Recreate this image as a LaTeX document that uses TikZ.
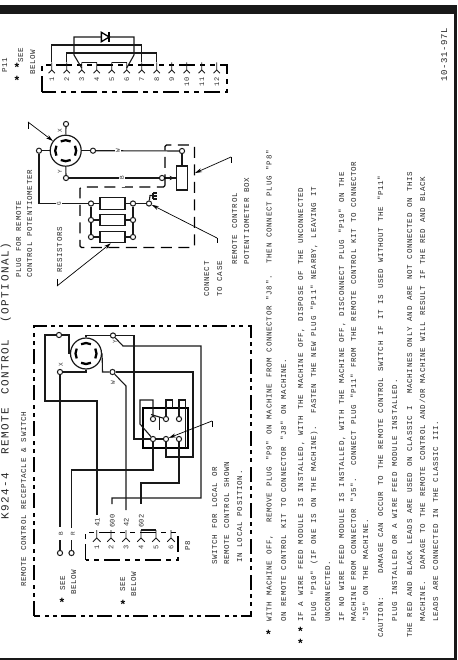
\documentclass[tikz,border=0pt]{standalone}
\usepackage{fontspec}
\usetikzlibrary{arrows.meta}
\setmainfont{Liberation Mono}
\newfontfamily\bodyf[LetterSpace=8.7,WordSpace=1.15]{Liberation Mono}
\newfontfamily\titlef[LetterSpace=13.6]{Liberation Mono}
\newfontfamily\datef[LetterSpace=7]{Liberation Mono}
\newfontfamily\starf{Liberation Sans}
\tikzset{
  wire/.style={line width=1.1pt,draw=black!90,line join=miter},
  termnode/.style={circle,draw=black!90,fill=white,line width=1pt,inner sep=0pt,minimum size=5.2pt},
  resbox/.style={rectangle,draw=black!90,fill=white,line width=1.1pt,inner sep=0pt},
  recep/.style={circle,draw=black!90,line width=1.2pt,inner sep=0pt,minimum size=31pt},
  txt/.style={rotate=90,anchor=base west,inner sep=0pt,font=\bodyf\fontsize{7.5}{8}\selectfont,text=black!85},
  pinlab/.style={rotate=90,anchor=base east,inner sep=0pt,font=\bodyf\fontsize{7}{8}\selectfont,text=black!80},
  gaplab/.style={rotate=90,fill=white,inner xsep=7pt,inner ysep=1pt,font=\bodyf\fontsize{6}{7}\selectfont,text=black!80},
  wirelab/.style={rotate=90,inner sep=0pt,font=\bodyf\fontsize{6}{7}\selectfont,text=black!80},
  starlab/.style={inner sep=0pt,font=\starf\bfseries\fontsize{12}{12}\selectfont},
  dashbox/.style={line width=1.3pt,draw=black,dash pattern=on 16pt off 5pt on 5pt off 5pt on 5pt off 5pt},
  dashres/.style={line width=1.3pt,draw=black,dash pattern=on 11pt off 6.5pt,rounded corners=1.5pt},
  dashmain/.style={line width=1.8pt,draw=black,dash pattern=on 15pt off 4pt on 4pt off 4pt on 4pt off 5pt},
  leader/.style={line width=.7pt,draw=black,-{Stealth[length=7pt,width=4pt]}},
  framebar/.style={fill=black!90}
}
\newcommand{\forkpin}[5]{% name, x, ytop, stem length, fork half width
  \coordinate (#1) at (#2,#3);
  \draw[wire,line width=.9pt] (#1) -- ++(0,#4) -- ++(-#5,#5);
  \draw[wire,line width=.9pt] (#1) ++(0,#4) -- ++(#5,#5);
}
\newcommand{\recarcs}[1]{%
  \foreach \a in {0,90,180,270}{
    \draw[line width=2.3pt,draw=black] (#1.center) ++(\a-28:10.5pt) arc[start angle=\a-28,end angle=\a+28,radius=10.5pt];
  }
}
\begin{document}
\begin{tikzpicture}[x=1pt,y=-1pt]
\useasboundingbox (0,0) rectangle (457,660);
% frame
\fill[framebar] (0,5) rectangle (457,14);
\fill[framebar] (453.7,5) rectangle (457,660);
\fill[framebar] (0,658) rectangle (457,660);

% ---------- titles
\node[txt,font=\titlef\fontsize{11}{12}\selectfont] (title) at (8.7,520) {K924-4\hspace{18pt}REMOTE\hspace{13pt}CONTROL\hspace{17pt}(OPTIONAL)};
\node[txt] (sub) at (26,587) {REMOTE CONTROL RECEPTACLE \& SWITCH};
\node[txt] (tplug1) at (21,278) {PLUG FOR REMOTE};
\node[txt] (tplug2) at (32,278) {CONTROL POTENTIOMETER};
\node[txt] (tres) at (62,273) {RESISTORS};
\node[txt] (tcon1) at (209,297) {CONNECT};
\node[txt] (tcon2) at (222,297) {TO CASE};
\node[txt] (tbox1) at (237,265) {REMOTE CONTROL};
\node[txt] (tbox2) at (249,265) {POTENTIOMETER BOX};
\node[txt] (tsw1) at (217,565) {SWITCH FOR LOCAL OR};
\node[txt] (tsw2) at (229,565) {REMOTE CONTROL SHOWN};
\node[txt] (tsw3) at (242,563) {IN LOCAL POSITION.};
\node[txt,font=\datef\fontsize{9}{10}\selectfont] (tdate) at (447,82) {10-31-97L};

% ---------- notes
\node[starlab] (n0s) at (268.5,634) {*};
\node[starlab] (n2a) at (300.5,631) {*};
\node[starlab] (n2b) at (300.5,643) {*};
\node[txt] (n1) at (271.5,622) {WITH MACHINE OFF,~~REMOVE PLUG "P9" ON MACHINE FROM CONNECTOR "J8".~~THEN CONNECT PLUG "P8"};
\node[txt] (n2) at (286,622) {ON REMOTE CONTROL KIT TO CONNECTOR "J8" ON MACHINE.};
\node[txt] (n3) at (303,622) {IF A WIRE FEED MODULE IS INSTALLED, WITH THE MACHINE OFF, DISPOSE OF THE UNCONNECTED};
\node[txt] (n4) at (316,622) {PLUG "P10" (IF ONE IS ON THE MACHINE).~~FASTEN THE NEW PLUG "P11" NEARBY, LEAVING IT};
\node[txt] (n5) at (330,622) {UNCONNECTED.};
\node[txt] (n6) at (344,622) {IF NO WIRE FEED MODULE IS INSTALLED, WITH THE MACHINE OFF, DISCONNECT PLUG "P10" ON THE};
\node[txt] (n7) at (356,622) {MACHINE FROM CONNECTOR "J5".~~CONNECT PLUG "P11" FROM THE REMOTE CONTROL KIT TO CONNECTOR};
\node[txt] (n8) at (368,622) {"J5" ON THE MACHINE.};
\node[txt] (n9) at (383,638) {CAUTION:~~~~DAMAGE CAN OCCUR TO THE REMOTE CONTROL SWITCH IF IT IS USED WITHOUT THE "P11"};
\node[txt] (n10) at (397,622) {PLUG INSTALLED OR A WIRE FEED MODULE INSTALLED.};
\node[txt] (n11) at (412,638) {THE RED AND BLACK LEADS ARE USED ON CLASSIC I~~MACHINES ONLY AND ARE NOT CONNECTED ON THIS};
\node[txt] (n12) at (425,622) {MACHINE.~~DAMAGE TO THE REMOTE CONTROL AND/OR MACHINE WILL RESULT IF THE RED AND BLACK};
\node[txt] (n13) at (438,622) {LEADS ARE CONNECTED IN THE CLASSIC III.};

% ---------- P11 plug
\node[txt] (lp11) at (7,73) {P11};
\node[starlab] (s1a) at (17,80) {*};
\node[starlab] (s1b) at (17,67) {*};
\node[txt] (ls1) at (23,63) {SEE};
\node[txt] (ls2) at (35,75) {BELOW};
\draw[dashbox] (42,92) -- (42,65) -- (227,65) -- (227,92) -- cycle;
\foreach \i/\x in {1/51.7,2/66.7,3/81.7,4/96.7,5/111.7,6/126.7,7/141.7,8/156.7,9/171.7,10/186.7,11/201.7,12/216.7}{
  \forkpin{q\i}{\x}{62.5}{7.5}{3.2}
  \node[pinlab] (ql\i) at (\x+2.4,77) {\i};
}
\node[inner sep=0pt,minimum width=7.5pt,minimum height=9pt] (dio) at (105.3,37) {};
\draw[line width=1.3pt] (dio.north west) -- (dio.east) -- (dio.south west) -- cycle;
\draw[line width=1.6pt] (dio.north east) -- (dio.south east);
\coordinate (q3d) at (81.7,68);
\coordinate (q6d) at (126.7,68);
\draw[wire] (q1) -- (51.7,45) -- (141.7,45) -- (q7);
\draw[wire] (q2) -- (66.7,53) -- (156.7,53) -- (q8);
\draw[wire] (q3) -- (q4);
\draw[wire] (q5) -- (q6);
\draw[wire] (q3d) -- (74,55) -- (74,37) -- (dio.west);
\draw[wire] (q6d) -- (134,55) -- (134,37) -- (dio.east);

% ---------- remote control potentiometer plug
\node[recep] (rec1) at (65.7,150.7) {};
\recarcs{rec1}
\node[termnode] (t1x) at (66,124) {};
\node[termnode] (t1g) at (39,150.7) {};
\node[termnode] (t1w) at (93,150.7) {};
\node[termnode] (t1y) at (66,178) {};
\node[wirelab] (m1x) at (60,131) {X};
\node[wirelab] (m1y) at (60,172) {Y};
\draw[wire] (t1x) -- (rec1);
\draw[wire] (t1g) -- (rec1);
\draw[wire] (t1w) -- (rec1);
\draw[wire] (t1y) -- (rec1);
\node[resbox,minimum width=11.7pt,minimum height=24pt] (pot) at (182,178) {};
\node[termnode] (tpw) at (182,151) {};
\node[termnode] (tpb) at (162,178) {};
\draw[wire] (tpw) -- (pot);
\draw[wire] (t1w) -- (tpw);
\draw[wire] (t1y) -- (tpb);
\draw[wire] (tpb) -- (pot);
\draw[wire,-{Stealth[length=4.5pt,width=4.5pt]},shorten >=1.5pt] (tpb) -- (pot);
\draw[dashres] (165,187) -- (165,145) -- (194.5,145) -- (194.5,247.5) -- (80,247.5) -- (80,187) -- cycle;
\node[resbox,minimum width=25pt,minimum height=11.5pt] (r1) at (112.5,203.5) {};
\node[resbox,minimum width=25pt,minimum height=11.5pt] (r2) at (112.5,220) {};
\node[resbox,minimum width=25pt,minimum height=11.5pt] (r3) at (112.5,237) {};
\node[termnode] (tl1) at (91,203.5) {};
\node[termnode] (tl2) at (91,220) {};
\node[termnode] (tl3) at (91,237) {};
\node[termnode] (tr1) at (133,203.5) {};
\node[termnode] (tr2) at (133,220) {};
\node[termnode] (tr3) at (133,237) {};
\node[termnode] (tgnd) at (149,203.5) {};
\foreach \i in {1,2,3}{
  \draw[wire] (tl\i) -- (r\i);
  \draw[wire] (tr\i) -- (r\i);
}
\draw[wire] (tl1) -- (tl2);
\draw[wire] (tl2) -- (tl3);
\draw[wire] (tr1) -- (tr2);
\draw[wire] (tr2) -- (tr3);
\draw[wire] (tr1) -- (tgnd);
\draw[wire] (t1g) -- (39,203.5) -- (tl1);
\draw[wire] (tgnd) -- (150,195.5) -- (153,195.5);
\draw[wire] (153,193) -- (153,199) (153,193) -- (156.5,193) (153,196) -- (156.5,196) (153,199) -- (156.5,199);
\node[gaplab] (lg) at (59,203.5) {G};
\node[gaplab] (lw) at (118,150.7) {W};
\node[gaplab] (lb) at (122,178) {B};

% ---------- receptacle & switch box
\draw[dashmain] (34,616) -- (34,326) -- (251,326) -- (251,616) -- cycle;
\node[recep] (rec2) at (86,353.5) {};
\recarcs{rec2}
\node[termnode] (t2x) at (60,372) {};
\node[termnode] (t2g) at (59,335) {};
\node[termnode] (t2y) at (113,335.5) {};
\node[termnode] (t2w) at (112.5,372) {};
\node[termnode] (tB) at (60,553) {};
\node[termnode] (tR) at (71.5,553) {};
\node[wirelab] (m2x) at (61,365) {X};
\node[wirelab] (m2y) at (115,342) {Y};
\node[wirelab] (m2w) at (113,383) {W};
\node[wirelab] (lB) at (61,534) {B};
\node[wirelab] (lR) at (73,534) {R};
\draw[wire] (t2g) -- (69,335) -- (69,353.5) -- (rec2.west);
\draw[wire] (rec2.north) -- (86,335.5) -- (t2y);
\draw[wire] (rec2.south) -- (86,372) -- (t2x);
\draw[wire] (rec2.east) -- (102.5,372) -- (t2w);
\draw[wire] (t2x) -- (60,527);
\draw[wire] (60,540) -- (tB);
\draw[wire] (71.5,540) -- (tR);
% switch
\node[draw=black,line width=1.1pt,inner sep=0pt,minimum width=45pt,minimum height=40pt] (swbody) at (165.5,428) {};
\node[termnode] (sa1) at (153,419) {};
\node[termnode] (sa2) at (166,419) {};
\node[termnode] (sa3) at (179,419) {};
\node[termnode] (sb1) at (153,439) {};
\node[termnode] (sb2) at (166,439) {};
\node[termnode] (sb3) at (179,439) {};
\draw[wire] (sa1) -- (153,400) -- (140,400) -- (140,424) -- (sb1);
\draw[wire] (sa2) -- (166,400) -- (172.7,400) -- (172.7,408);
\draw[wire] (sa3) -- (179,400) -- (185.7,400) -- (185.7,448);
\draw[wire] (sb1) -- (sb2);
\draw[wire] (151,414.5) -- (sa2);
\draw[wire] (159.5,417) -- (159.5,430);
% wires to P8
\node[txt,font=\bodyf\fontsize{7}{8}\selectfont] (l41) at (99.5,527) {41};
\node[txt,font=\bodyf\fontsize{7}{8}\selectfont] (l600) at (114.5,528) {600};
\node[txt,font=\bodyf\fontsize{7}{8}\selectfont] (l42) at (128.5,527) {42};
\node[txt,font=\bodyf\fontsize{7}{8}\selectfont] (l602) at (143.5,528) {602};
\coordinate (e41) at (97,515);
\coordinate (e600) at (112,504);
\coordinate (e42) at (126,510);
\coordinate (e602) at (141,504);
\draw[wire] (t2g) -- (45,335) -- (45,401) -- (97,401) -- (e41);
\draw[wire] (t2y) -- (134,335.5) -- (134,439) -- (sb1);
\draw[wire] (t2y) -- (123,346) -- (201,346) -- (201,498) -- (112,498) -- (e600);
\draw[wire] (t2w) -- (126,386) -- (e42);
\draw[wire] (t2w) -- (193,372) -- (193,457) -- (166,457) -- (sb2);
\draw[wire] (sb1) -- (153,470) -- (71.5,470) -- (71.5,528);
\draw[wire] (sb3) -- (179,483) -- (141,483) -- (e602);
% P8
\draw[dashbox] (85.7,560) -- (85.7,532.7) -- (178,532.7) -- (178,560) -- cycle;
\foreach \i/\x in {1/96.7,2/111,3/126,4/141,5/156,6/171}{
  \forkpin{p\i}{\x}{530}{8}{3.8}
  \node[pinlab] (pl\i) at (\x+2.4,545) {\i};
}
\draw[wire] (p4) -- (p5);
\node[txt] (lp8) at (190,551) {P8};
\node[starlab] (s2) at (62,602.5) {*};
\node[txt] (ls3) at (65,591) {SEE};
\node[txt] (ls4) at (76,595) {BELOW};
\node[starlab] (s3) at (123,604) {*};
\node[txt] (ls5) at (125,592) {SEE};
\node[txt] (ls6) at (136,597) {BELOW};

% ---------- leaders
\coordinate (a1) at (28,122);
\draw[line width=.7pt] (a1) -- (28,129);
\draw[leader] (a1) -- (rec1);
\coordinate (a2) at (57,286);
\draw[line width=.7pt] (a2) -- (57,279);
\draw[leader] (a2) -- (r3.255);
\coordinate (a3) at (217,238);
\draw[line width=.7pt] (a3) -- (217,243);
\draw[leader] (a3) -- (tgnd);
\coordinate (a4) at (231,157);
\coordinate (a4t) at (195,173);
\draw[line width=.7pt] (a4) -- (231,163);
\draw[leader] (a4) -- (a4t);
\coordinate (a5) at (212,421);
\draw[line width=.7pt] (a5) -- (212,427);
\draw[leader] (a5) -- (sb2);
\end{tikzpicture}
\end{document}
